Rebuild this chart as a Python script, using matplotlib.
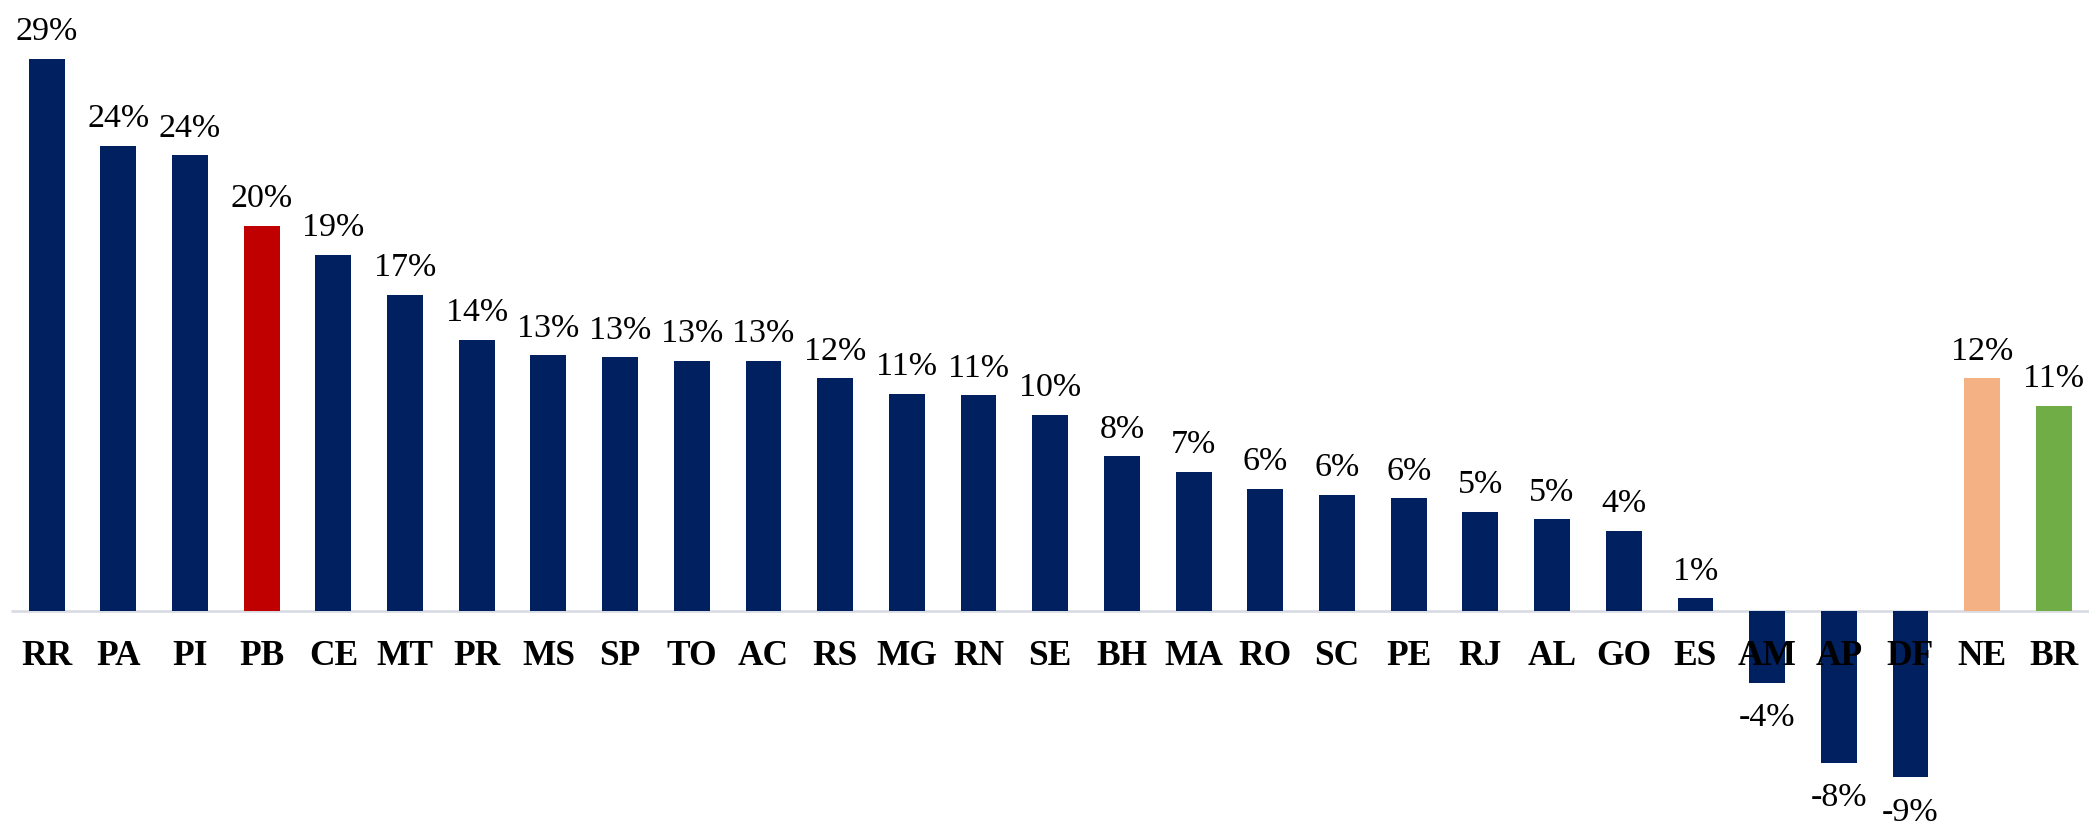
import matplotlib
matplotlib.use('Agg')
import matplotlib.pyplot as plt

# UFs ordenadas pela variação (%)
ESTADOS = ["RR", "PA", "PI", "PB", "CE", "MT", "PR", "MS", "SP", "TO", "AC",
           "RS", "MG", "RN", "SE", "BH", "MA", "RO", "SC", "PE", "RJ", "AL",
           "GO", "ES", "AM", "AP", "DF", "NE", "BR"]
VARIACAO = [28.95, 24.4, 23.9, 20.2, 18.7, 16.6, 14.2, 13.4, 13.3, 13.1, 13.1,
            12.2, 11.4, 11.3, 10.3, 8.1, 7.3, 6.4, 6.1, 5.9, 5.2, 4.8,
            4.2, 0.65, -3.8, -8.0, -8.75, 12.2, 10.75]

AZUL = "#002060"
DESTAQUE = {"PB": "#C00000", "NE": "#F4B183", "BR": "#70AD47"}

plt.rcParams['font.family'] = ['Liberation Serif', 'DejaVu Serif']

W, H, DPI = 2089, 822, 100
fig = plt.figure(figsize=(W / DPI, H / DPI), dpi=DPI)
ax = fig.add_axes([0, 0, 1, 1])
ax.axis('off')

x = list(range(len(ESTADOS)))
cores = [DESTAQUE.get(e, AZUL) for e in ESTADOS]
bars = ax.bar(x, VARIACAO, width=0.5, color=cores, zorder=3)

ax.set_xlim(-0.65, 28.49)
ax.set_ylim(-11.09, 32.06)

# linha do eixo
ax.plot([-0.5, 28.49], [0, 0], color="#D9DDE3", lw=2, zorder=2,
        solid_capstyle='butt')

for xi, v, nome in zip(x, VARIACAO, ESTADOS):
    ax.text(xi, -2.85, nome, ha='center', va='baseline', fontsize=25.5,
            fontweight='bold', color='black', zorder=5)
    if v >= 0:
        ax.annotate(f"{v:.0f}%", (xi, v), xytext=(0, 13.5),
                    textcoords='offset points', ha='center', va='baseline',
                    fontsize=24.5, color='black', zorder=4)
    else:
        ax.annotate(f"{v:.0f}%", (xi, v), xytext=(0, -31.2),
                    textcoords='offset points', ha='center', va='baseline',
                    fontsize=24.5, color='black', zorder=4)

fig.savefig("out.png", dpi=DPI, facecolor='white')
plt.close(fig)
